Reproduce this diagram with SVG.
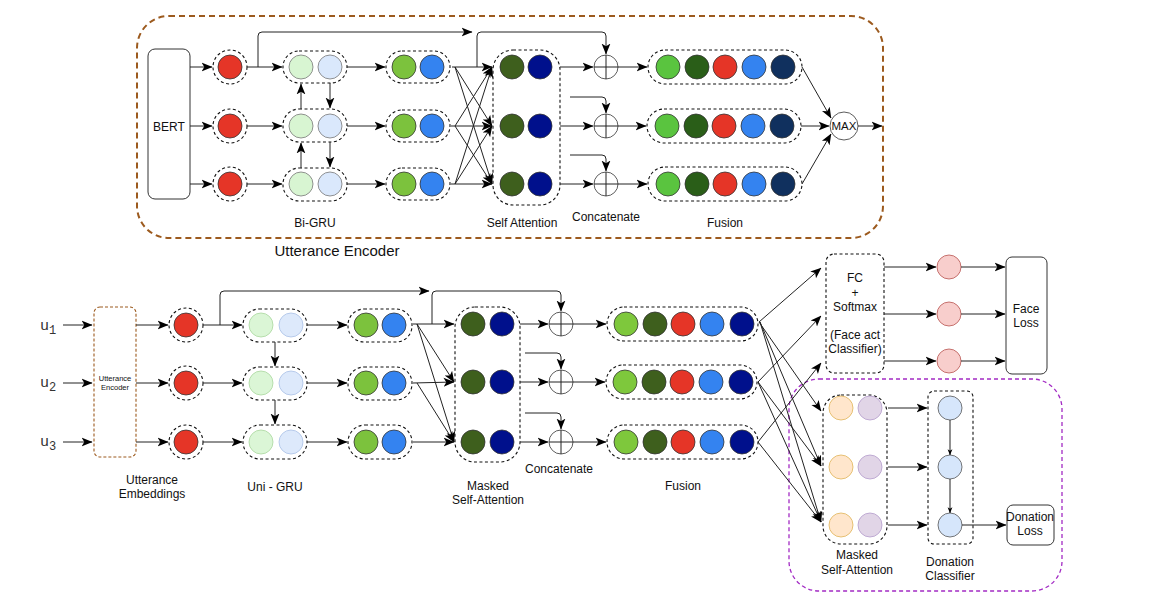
<svg xmlns="http://www.w3.org/2000/svg" width="1150" height="608" viewBox="0 0 1150 608">
<defs>
<marker id="a" viewBox="0 0 10 10" refX="9.5" refY="5" markerWidth="11" markerHeight="11" orient="auto" markerUnits="userSpaceOnUse"><path d="M0,1 L10,5 L0,9 L2.5,5 z" fill="#000"/></marker>
<marker id="s" viewBox="0 0 10 10" refX="9.5" refY="5" markerWidth="6" markerHeight="6" orient="auto" markerUnits="userSpaceOnUse"><path d="M0,1 L10,5 L0,9 L2.5,5 z" fill="#000"/></marker>
<style>
.ln{stroke:#222;stroke-width:1;fill:none}
.ar{stroke:#222;stroke-width:1;fill:none;marker-end:url(#a)}
.sm{stroke:#222;stroke-width:1;fill:none;marker-end:url(#s)}
.d{fill:none;stroke:#111;stroke-width:1.1;stroke-dasharray:3 2.5}
.c{stroke:#333;stroke-width:0.8}
.t{font-family:"Liberation Sans",Arial,sans-serif;font-size:12px;fill:#111;text-anchor:middle}
.u{font-family:"Liberation Mono","Courier New",monospace;font-size:15px;fill:#333}
.red{fill:#e53527}.lg{fill:#d8f5d2}.lb{fill:#dae8fc}.gr{fill:#7cc23d}.bl{fill:#3483f0}
.ol{fill:#3e5f1d}.nv{fill:#00108c}.fg{fill:#5ac43f}.dg{fill:#2a5e18}.dn{fill:#10305e}
.pk{fill:#f8cecc;stroke:#b85450;stroke-width:0.8}
.or{fill:#ffe6cc;stroke:#e0b458;stroke-width:0.8}
.pu{fill:#e1d5e7;stroke:#b49ccb;stroke-width:0.8}
.dc{fill:#d6e6fb;stroke:#555;stroke-width:0.8}
.ox{fill:#fff;stroke:#333;stroke-width:0.8}
</style>
</defs>
<rect width="1150" height="608" fill="#fff"/>

<!-- TOP: Utterance Encoder -->
<g id="utterance-encoder-frame">
<rect x="137" y="16" width="746" height="222" rx="32" fill="none" stroke="#9c5a1e" stroke-width="2" stroke-dasharray="6 4"/>
<text x="337" y="256" class="t" style="font-size:15px">Utterance Encoder</text>
</g>
<g id="bert">
<rect x="148" y="49" width="42" height="150" rx="7" fill="#fff" stroke="#333" stroke-width="1"/>
<text x="169" y="131" class="t">BERT</text>
</g>
<g id="top-embeddings">
<circle cx="230" cy="67" r="17" class="d"/><circle cx="230" cy="67" r="12" class="red c"/>
<circle cx="230" cy="126" r="17" class="d"/><circle cx="230" cy="126" r="12" class="red c"/>
<circle cx="230" cy="184" r="17" class="d"/><circle cx="230" cy="184" r="12" class="red c"/>
</g>
<g id="bi-gru">
<rect x="283" y="51" width="64" height="32" rx="16" class="d"/>
<circle cx="301" cy="67" r="12" class="lg" stroke="#777" stroke-width="0.8"/><circle cx="330" cy="67" r="12" class="lb" stroke="#777" stroke-width="0.8"/>
<rect x="283" y="109" width="64" height="33" rx="16" class="d"/>
<circle cx="301" cy="126" r="12" class="lg" stroke="#777" stroke-width="0.8"/><circle cx="330" cy="126" r="12" class="lb" stroke="#777" stroke-width="0.8"/>
<rect x="283" y="168" width="64" height="33" rx="16" class="d"/>
<circle cx="301" cy="184" r="12" class="lg" stroke="#777" stroke-width="0.8"/><circle cx="330" cy="184" r="12" class="lb" stroke="#777" stroke-width="0.8"/>
<text x="315" y="227" class="t">Bi-GRU</text>
</g>
<g id="top-gru-out">
<rect x="386" y="51" width="64" height="32" rx="16" class="d"/>
<circle cx="404" cy="67" r="12" class="gr c"/><circle cx="432" cy="67" r="12" class="bl c"/>
<rect x="386" y="110" width="64" height="32" rx="16" class="d"/>
<circle cx="404" cy="126" r="12" class="gr c"/><circle cx="432" cy="126" r="12" class="bl c"/>
<rect x="386" y="168" width="64" height="32" rx="16" class="d"/>
<circle cx="404" cy="184" r="12" class="gr c"/><circle cx="432" cy="184" r="12" class="bl c"/>
</g>
<g id="self-attention">
<rect x="493" y="50" width="67" height="155" rx="20" class="d"/>
<circle cx="512" cy="67" r="12" class="ol c"/><circle cx="540" cy="67" r="12" class="nv c"/>
<circle cx="512" cy="126" r="12" class="ol c"/><circle cx="540" cy="126" r="12" class="nv c"/>
<circle cx="512" cy="184" r="12" class="ol c"/><circle cx="540" cy="184" r="12" class="nv c"/>
<text x="522" y="227" class="t">Self Attention</text>
</g>
<g id="top-concat">
<circle cx="606" cy="67" r="12" class="ox"/><path d="M594,67 H618 M606,55 V79" class="ln"/>
<circle cx="606" cy="126" r="12" class="ox"/><path d="M594,126 H618 M606,114 V138" class="ln"/>
<circle cx="606" cy="184" r="12" class="ox"/><path d="M594,184 H618 M606,172 V196" class="ln"/>
<text x="606" y="221" class="t">Concatenate</text>
</g>
<g id="top-fusion">
<rect x="648" y="50" width="154" height="34" rx="17" class="d"/>
<circle cx="668" cy="67" r="12" class="fg c"/><circle cx="697" cy="67" r="12" class="dg c"/><circle cx="725" cy="67" r="12" class="red c"/><circle cx="754" cy="67" r="12" class="bl c"/><circle cx="783" cy="67" r="12" class="dn c"/>
<rect x="647" y="109" width="154" height="34" rx="17" class="d"/>
<circle cx="667" cy="126" r="12" class="fg c"/><circle cx="696" cy="126" r="12" class="dg c"/><circle cx="724" cy="126" r="12" class="red c"/><circle cx="753" cy="126" r="12" class="bl c"/><circle cx="782" cy="126" r="12" class="dn c"/>
<rect x="648" y="167" width="154" height="34" rx="17" class="d"/>
<circle cx="668" cy="184" r="12" class="fg c"/><circle cx="697" cy="184" r="12" class="dg c"/><circle cx="725" cy="184" r="12" class="red c"/><circle cx="754" cy="184" r="12" class="bl c"/><circle cx="783" cy="184" r="12" class="dn c"/>
<text x="725" y="227" class="t">Fusion</text>
</g>
<g id="max">
<circle cx="844" cy="126" r="14" class="ox"/>
<text x="844" y="130" class="t" style="font-size:11.5px">MAX</text>
</g>

<!-- BOTTOM -->
<g id="inputs">
<text x="40" y="330" class="u">u<tspan dy="4" font-size="12">1</tspan></text>
<text x="40" y="387" class="u">u<tspan dy="4" font-size="12">2</tspan></text>
<text x="40" y="446" class="u">u<tspan dy="4" font-size="12">3</tspan></text>
</g>
<g id="utterance-encoder-box">
<rect x="94" y="307" width="42" height="150" rx="6" fill="none" stroke="#9c5a1e" stroke-width="1.1" stroke-dasharray="3 2"/>
<text x="115" y="381" class="t" style="font-size:7.5px">Utterance</text>
<text x="115" y="390" class="t" style="font-size:7.5px">Encoder</text>
</g>
<g id="utterance-embeddings">
<circle cx="186" cy="325" r="17" class="d"/><circle cx="186" cy="325" r="12" class="red c"/>
<circle cx="186" cy="383" r="17" class="d"/><circle cx="186" cy="383" r="12" class="red c"/>
<circle cx="186" cy="442" r="17" class="d"/><circle cx="186" cy="442" r="12" class="red c"/>
<text x="152" y="484" class="t">Utterance</text>
<text x="152" y="498" class="t">Embeddings</text>
</g>
<g id="uni-gru">
<rect x="243" y="309" width="64" height="33" rx="16" class="d"/>
<circle cx="261" cy="325" r="12" fill="#dbf6d6" stroke="#a9d79e" stroke-width="0.8"/><circle cx="291" cy="325" r="12" fill="#dde9fb" stroke="#a9c0e6" stroke-width="0.8"/>
<rect x="243" y="367" width="64" height="33" rx="16" class="d"/>
<circle cx="261" cy="383" r="12" fill="#dbf6d6" stroke="#a9d79e" stroke-width="0.8"/><circle cx="291" cy="383" r="12" fill="#dde9fb" stroke="#a9c0e6" stroke-width="0.8"/>
<rect x="243" y="425" width="64" height="34" rx="17" class="d"/>
<circle cx="261" cy="442" r="12" fill="#dbf6d6" stroke="#a9d79e" stroke-width="0.8"/><circle cx="291" cy="442" r="12" fill="#dde9fb" stroke="#a9c0e6" stroke-width="0.8"/>
<text x="275" y="491" class="t">Uni - GRU</text>
</g>
<g id="bottom-gru-out">
<rect x="348" y="309" width="64" height="33" rx="16" class="d"/>
<circle cx="366" cy="325" r="12" class="gr c"/><circle cx="394" cy="325" r="12" class="bl c"/>
<rect x="348" y="367" width="64" height="33" rx="16" class="d"/>
<circle cx="366" cy="383" r="12" class="gr c"/><circle cx="394" cy="383" r="12" class="bl c"/>
<rect x="348" y="425" width="64" height="34" rx="17" class="d"/>
<circle cx="366" cy="442" r="12" class="gr c"/><circle cx="394" cy="442" r="12" class="bl c"/>
</g>
<g id="masked-self-attention">
<rect x="455" y="307" width="65" height="155" rx="20" class="d"/>
<circle cx="473" cy="324" r="12" class="ol c"/><circle cx="502" cy="324" r="12" class="nv c"/>
<circle cx="473" cy="382" r="12" class="ol c"/><circle cx="502" cy="382" r="12" class="nv c"/>
<circle cx="473" cy="442" r="12" class="ol c"/><circle cx="502" cy="442" r="12" class="nv c"/>
<text x="488" y="490" class="t">Masked</text>
<text x="488" y="504" class="t">Self-Attention</text>
</g>
<g id="bottom-concat">
<circle cx="561" cy="324" r="12" class="ox"/><path d="M549,324 H573 M561,312 V336" class="ln"/>
<circle cx="561" cy="382" r="12" class="ox"/><path d="M549,382 H573 M561,370 V394" class="ln"/>
<circle cx="561" cy="442" r="12" class="ox"/><path d="M549,442 H573 M561,430 V454" class="ln"/>
<text x="559" y="473" class="t">Concatenate</text>
</g>
<g id="bottom-fusion">
<rect x="607" y="307" width="151" height="34" rx="17" class="d"/>
<circle cx="626" cy="324" r="12" fill="#7ec83c" class="c"/><circle cx="655" cy="324" r="12" class="ol c"/><circle cx="683" cy="324" r="12" class="red c"/><circle cx="712" cy="324" r="12" class="bl c"/><circle cx="742" cy="324" r="12" class="nv c"/>
<rect x="606" y="365" width="151" height="34" rx="17" class="d"/>
<circle cx="625" cy="382" r="12" fill="#7ec83c" class="c"/><circle cx="654" cy="382" r="12" class="ol c"/><circle cx="682" cy="382" r="12" class="red c"/><circle cx="711" cy="382" r="12" class="bl c"/><circle cx="741" cy="382" r="12" class="nv c"/>
<rect x="607" y="425" width="151" height="34" rx="17" class="d"/>
<circle cx="626" cy="442" r="12" fill="#7ec83c" class="c"/><circle cx="655" cy="442" r="12" class="ol c"/><circle cx="683" cy="442" r="12" class="red c"/><circle cx="712" cy="442" r="12" class="bl c"/><circle cx="742" cy="442" r="12" class="nv c"/>
<text x="683" y="490" class="t">Fusion</text>
</g>
<g id="face-act-classifier">
<rect x="826" y="254" width="58" height="119" rx="8" class="d"/>
<text x="855" y="282" class="t">FC</text>
<text x="855" y="297" class="t">+</text>
<text x="855" y="311" class="t">Softmax</text>
<text x="855" y="339" class="t">(Face act</text>
<text x="855" y="353" class="t">Classifier)</text>
</g>
<g id="face-outputs">
<circle cx="949" cy="267" r="12" class="pk"/>
<circle cx="949" cy="314" r="12" class="pk"/>
<circle cx="949" cy="361" r="12" class="pk"/>
</g>
<g id="face-loss">
<rect x="1006" y="257" width="41" height="117" rx="6" fill="#fff" stroke="#333" stroke-width="1"/>
<text x="1026" y="313" class="t">Face</text>
<text x="1026" y="327" class="t">Loss</text>
</g>
<g id="donation-frame">
<rect x="789" y="379" width="273" height="212" rx="30" fill="none" stroke="#a32bc4" stroke-width="1.3" stroke-dasharray="4 3"/>
</g>
<g id="donation-msa">
<rect x="823" y="395" width="64" height="149" rx="18" class="d"/>
<circle cx="841" cy="408" r="12" class="or"/><circle cx="870" cy="408" r="12" class="pu"/>
<circle cx="841" cy="467" r="12" class="or"/><circle cx="870" cy="467" r="12" class="pu"/>
<circle cx="841" cy="525" r="12" class="or"/><circle cx="870" cy="525" r="12" class="pu"/>
<text x="857" y="559" class="t">Masked</text>
<text x="857" y="574" class="t">Self-Attention</text>
</g>
<g id="donation-classifier">
<rect x="928" y="391" width="45" height="153" rx="6" class="d"/>
<circle cx="950" cy="408" r="12" class="dc"/>
<circle cx="950" cy="467" r="12" class="dc"/>
<circle cx="950" cy="525" r="12" class="dc"/>
<text x="950" y="566" class="t">Donation</text>
<text x="950" y="580" class="t">Classifier</text>
</g>
<g id="donation-loss">
<rect x="1007" y="505" width="47" height="40" rx="6" fill="#fff" stroke="#333" stroke-width="1"/>
<text x="1030" y="521" class="t">Donation</text>
<text x="1030" y="535" class="t">Loss</text>
</g>

<!-- CONNECTORS -->
<g id="connectors">
<!-- top -->
<path d="M190,67 H212" class="ar"/><path d="M190,126 H212" class="ar"/><path d="M190,184 H212" class="ar"/>
<path d="M247,67 H282" class="ar"/><path d="M247,126 H282" class="ar"/><path d="M247,184 H282" class="ar"/>
<path d="M301,109 V84" class="ar"/><path d="M330,83 V108" class="ar"/>
<path d="M301,168 V143" class="ar"/><path d="M330,142 V167" class="ar"/>
<path d="M347,67 H385" class="ar"/><path d="M347,126 H385" class="ar"/><path d="M347,184 H385" class="ar"/>
<path d="M452,67 L492,67" class="ar"/><path d="M455,67 L492,126" class="ar" stroke-width="0.7"/><path d="M455,67 L492,184" class="ar" stroke-width="0.7"/>
<path d="M455,126 L492,67" class="ar" stroke-width="0.7"/><path d="M451,126 L492,126" class="ar"/><path d="M455,126 L492,184" class="ar" stroke-width="0.7"/>
<path d="M455,184 L492,67" class="ar" stroke-width="0.7"/><path d="M455,184 L492,126" class="ar" stroke-width="0.7"/><path d="M451,184 L492,184" class="ar"/>
<path d="M258,67 V36 Q258,32 262,32 H472" class="ar"/>
<path d="M477,67 V36 Q477,32 481,32 H602 Q606,32 606,36 V54" class="ar"/>
<path d="M570,97 H602 Q606,97 606,101 V113" class="ar"/>
<path d="M570,155 H602 Q606,155 606,159 V171" class="ar"/>
<path d="M560,67 H593" class="ar"/><path d="M560,126 H593" class="ar"/><path d="M560,184 H593" class="ar"/>
<path d="M618,67 H647" class="ar"/><path d="M618,126 H646" class="ar"/><path d="M618,184 H647" class="ar"/>
<path d="M802,67 L831,118" class="ar"/><path d="M801,126 H829" class="ar"/><path d="M802,184 L831,134" class="ar"/>
<path d="M858,126 H882" class="ar"/>
<!-- bottom -->
<path d="M63,325 H92" class="ar"/><path d="M63,383 H92" class="ar"/><path d="M63,442 H92" class="ar"/>
<path d="M136,325 H168" class="ar"/><path d="M136,383 H168" class="ar"/><path d="M136,442 H168" class="ar"/>
<path d="M203,325 H242" class="ar"/><path d="M203,383 H242" class="ar"/><path d="M203,442 H242" class="ar"/>
<path d="M275,342 V366" class="ar"/><path d="M275,400 V424" class="ar"/>
<path d="M307,325 H347" class="ar"/><path d="M307,383 H347" class="ar"/><path d="M307,442 H347" class="ar"/>
<path d="M220,325 V295 Q220,291 224,291 H429" class="ar"/>
<path d="M432,324 V295 Q432,291 436,291 H557 Q561,291 561,295 V311" class="ar"/>
<path d="M413,324 L454,324" class="ar"/><path d="M417,324 L454,382" class="ar" stroke-width="0.8"/><path d="M417,324 L454,442" class="ar" stroke-width="0.8"/>
<path d="M413,383 L454,382" class="ar"/><path d="M417,383 L454,442" class="ar" stroke-width="0.8"/>
<path d="M413,442 L454,442" class="ar"/>
<path d="M520,324 H548" class="ar"/><path d="M520,382 H548" class="ar"/><path d="M520,442 H548" class="ar"/>
<path d="M525,353 H557 Q561,353 561,357 V369" class="ar"/>
<path d="M525,413 H557 Q561,413 561,417 V429" class="ar"/>
<path d="M573,324 H606" class="ar"/><path d="M573,382 H605" class="ar"/><path d="M573,442 H606" class="ar"/>
<!-- to classifiers -->
<path d="M759,322 L821,268" class="ar" stroke-width="0.8"/>
<path d="M758,382 L821,316" class="ar" stroke-width="0.8"/>
<path d="M758,442 L821,363" class="ar" stroke-width="0.8"/>
<path d="M759,322 L821,411" class="ar" stroke-width="0.8"/>
<path d="M760,322 L821,466" class="ar" stroke-width="0.8"/>
<path d="M760,322 L821,522" class="ar" stroke-width="0.8"/>
<path d="M758,382 L821,466" class="ar" stroke-width="0.8"/>
<path d="M758,382 L821,522" class="ar" stroke-width="0.8"/>
<path d="M758,442 L821,522" class="ar" stroke-width="0.8"/>
<path d="M884,267 H936" class="ar"/><path d="M884,314 H936" class="ar"/><path d="M884,361 H936" class="ar"/>
<path d="M961,267 H1005" class="ar"/><path d="M961,314 H1005" class="ar"/><path d="M961,361 H1005" class="ar"/>
<path d="M888,408 H927" class="ar"/><path d="M888,467 H927" class="ar"/><path d="M888,525 H927" class="ar"/>
<path d="M950,420 V455" class="sm"/><path d="M950,479 V513" class="sm"/>
<path d="M962,525 H1006" class="ar"/>
</g>
</svg>
